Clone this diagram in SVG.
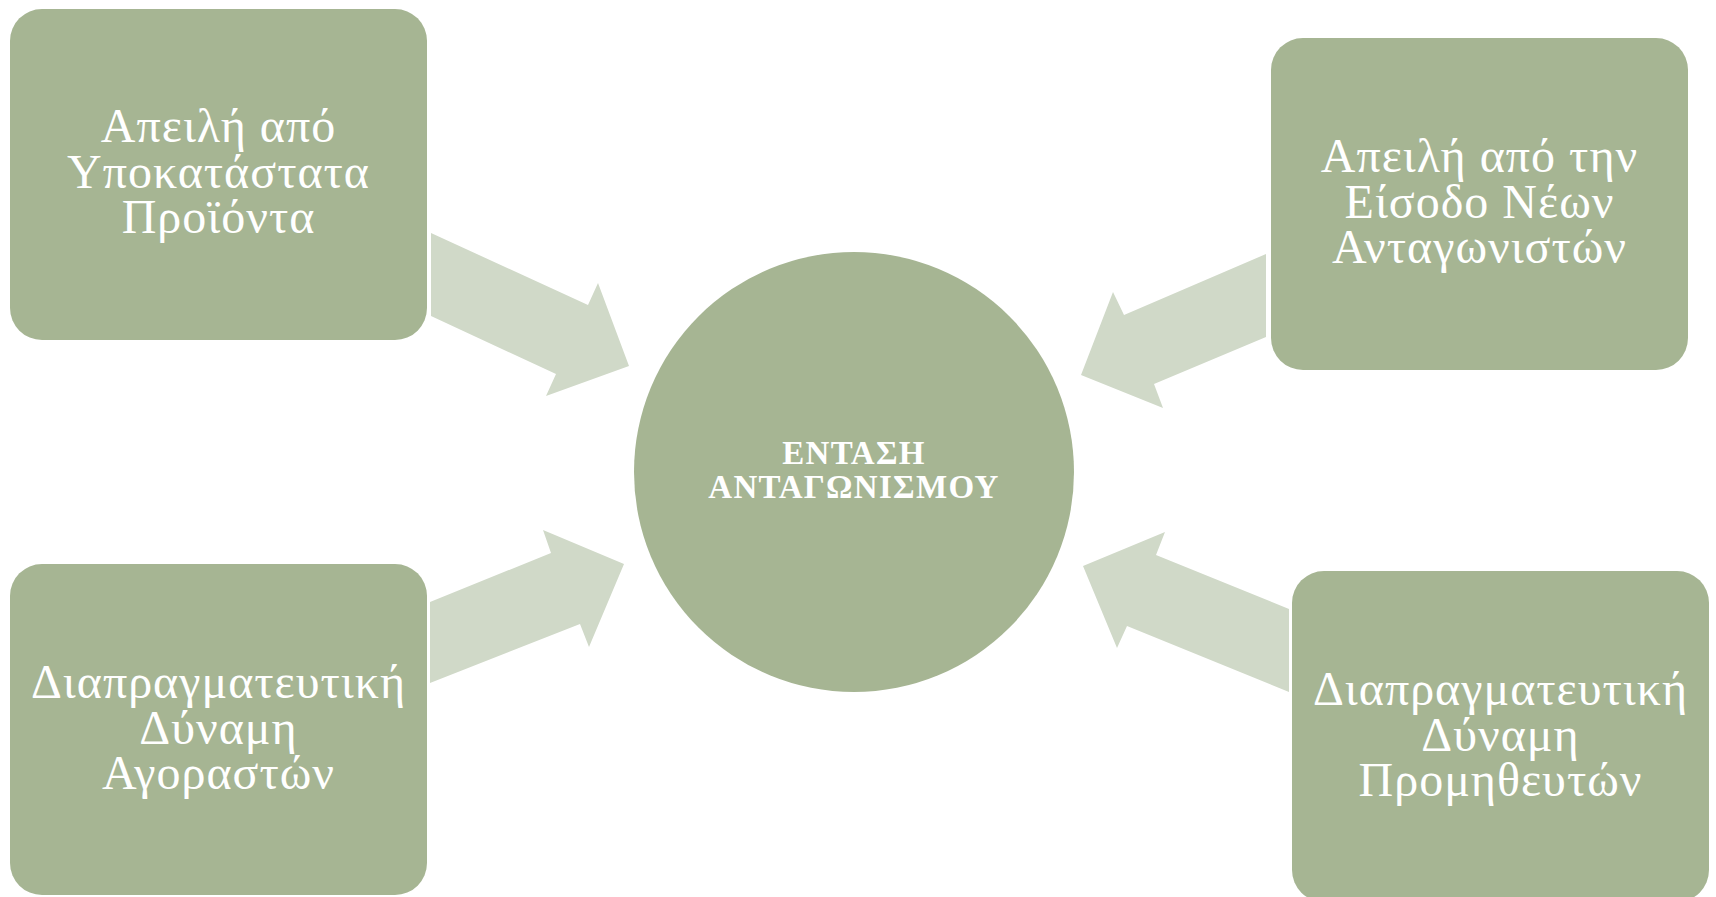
<svg xmlns="http://www.w3.org/2000/svg" width="1716" height="897" viewBox="0 0 1716 897">
<style>
.box{fill:#A6B593;}
.arrow{fill:#D0D9C8;}
.lbl{font-family:"Liberation Serif","DejaVu Serif",serif;font-size:48px;letter-spacing:1px;fill:#FFFFFF;text-anchor:middle;}
.center{font-family:"Liberation Serif","DejaVu Serif",serif;font-size:33px;letter-spacing:1.3px;font-weight:bold;fill:#FFFFFF;text-anchor:middle;}
</style>
<rect width="1716" height="897" fill="#FFFFFF"/>
<g id="connectors">
<polygon class="arrow" points="431,233 588,305 598,283 629,366 546,396 556,374 431,316"/>
<polygon class="arrow" points="1266,254 1124,315 1113,292 1081,375 1163,408 1154,384 1266,337"/>
<polygon class="arrow" points="430,602 551,553 543,530 624,564 589,647 580,624 430,683"/>
<polygon class="arrow" points="1289,609 1156,555 1165,532 1083,566 1117,648 1127,626 1289,692"/>
</g>
<g id="center">
<circle class="box" cx="854" cy="472" r="220"/>
<text class="center" x="854" y="464">ΕΝΤΑΣΗ</text>
<text class="center" x="854" y="498">ΑΝΤΑΓΩΝΙΣΜΟΥ</text>
</g>
<g id="node-substitutes">
<rect class="box" x="10" y="9" width="417" height="331" rx="32" ry="32"/>
<text class="lbl" x="218.5" y="142">Απειλή από</text>
<text class="lbl" x="218.5" y="188">Υποκατάστατα</text>
<text class="lbl" x="218.5" y="233">Προϊόντα</text>
</g>
<g id="node-entrants">
<rect class="box" x="1271" y="38" width="417" height="332" rx="32" ry="32"/>
<text class="lbl" x="1479.5" y="172">Απειλή από την</text>
<text class="lbl" x="1479.5" y="217.5">Είσοδο Νέων</text>
<text class="lbl" x="1479.5" y="263">Ανταγωνιστών</text>
</g>
<g id="node-buyers">
<rect class="box" x="10" y="564" width="417" height="331" rx="32" ry="32"/>
<text class="lbl" x="218.5" y="698">Διαπραγματευτική</text>
<text class="lbl" x="218.5" y="743.5">Δύναμη</text>
<text class="lbl" x="218.5" y="789">Αγοραστών</text>
</g>
<g id="node-suppliers">
<rect class="box" x="1292" y="571" width="417" height="331" rx="32" ry="32"/>
<text class="lbl" x="1500.5" y="705">Διαπραγματευτική</text>
<text class="lbl" x="1500.5" y="750.5">Δύναμη</text>
<text class="lbl" x="1500.5" y="796">Προμηθευτών</text>
</g>
</svg>
